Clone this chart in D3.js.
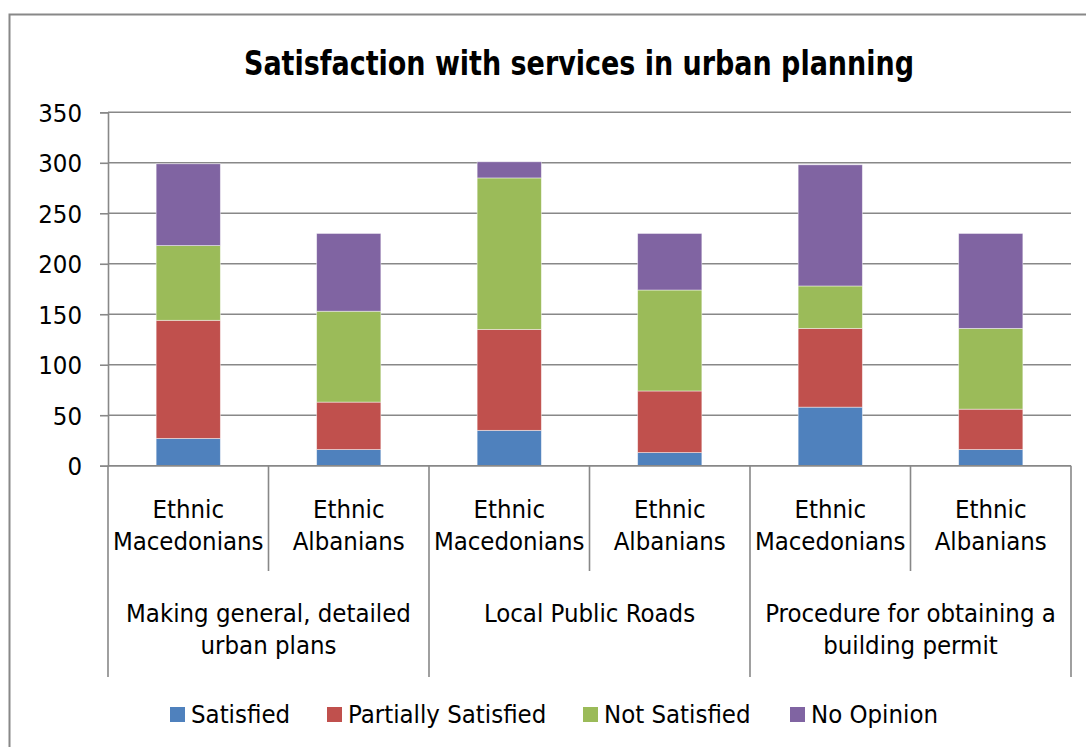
<!DOCTYPE html>
<html>
<head>
<meta charset="utf-8">
<script src="https://cdn.jsdelivr.net/npm/d3@7/dist/d3.min.js"></script>
<style>
  html, body { margin: 0; padding: 0; background: #fff; }
  svg { display: block; }
  text { font-family: "DejaVu Sans Condensed", "DejaVu Sans", sans-serif; font-stretch: condensed; fill: #000; }
</style>
</head>
<body>
<svg id="chart" width="1086" height="747"></svg>
<script>
// Respondent groups within each service area
const groups = ["Ethnic Macedonians", "Ethnic Albanians"];
const services = [
  ["Making general, detailed", "urban plans"],
  ["Local Public Roads"],
  ["Procedure for obtaining a", "building permit"]
];
const categories = ["EM1", "EA1", "EM2", "EA2", "EM3", "EA3"];

// Stacked answer counts, one value per category
const satisfied    = [27, 16, 35, 13, 58, 16];
const partially    = [117, 47, 100, 61, 78, 40];
const notSatisfied = [74, 90, 150, 100, 42, 80];
const noOpinion    = [81, 77, 16, 56, 120, 94];

const seriesNames = ["Satisfied", "Partially Satisfied", "Not Satisfied", "No Opinion"];
const seriesColors = ["#4F81BD", "#C0504D", "#9BBB59", "#8064A2"];
const yTicks = [0, 50, 100, 150, 200, 250, 300, 350];

const svg = d3.select("#chart");
const grid = "#888888";
const fs = 25.5;

// Outer chart frame
svg.append("rect")
  .attr("x", 9.5).attr("y", 14.5).attr("width", 1090).attr("height", 760)
  .attr("fill", "#fff").attr("stroke", grid).attr("stroke-width", 2);

// Title
svg.append("text")
  .attr("x", 579).attr("y", 75)
  .attr("text-anchor", "middle")
  .attr("font-size", 34).attr("font-weight", "bold")
  .attr("textLength", 670).attr("lengthAdjust", "spacingAndGlyphs")
  .text("Satisfaction with services in urban planning");

const plot = { left: 108, right: 1071, top: 112.3, bottom: 465.7 };

const x = d3.scaleBand()
  .domain(categories)
  .range([plot.left, plot.right])
  .paddingInner(0.6).paddingOuter(0.3);
const step = x.step();

const y = d3.scaleLinear().domain([0, 350]).range([plot.bottom, plot.top]);

// Horizontal gridlines
svg.append("g").selectAll("line").data(yTicks).join("line")
  .attr("x1", plot.left).attr("x2", plot.right)
  .attr("y1", d => y(d)).attr("y2", d => y(d))
  .attr("stroke", grid).attr("stroke-width", 1.6);

// Y axis
const yAxis = svg.append("g")
  .attr("transform", `translate(${plot.left},0)`)
  .call(d3.axisLeft(y).tickValues(yTicks).tickSize(8).tickPadding(18));
yAxis.attr("font-family", null).attr("font-size", null);
yAxis.select(".domain").attr("stroke", grid).attr("stroke-width", 1.6);
yAxis.selectAll(".tick line").attr("stroke", grid).attr("stroke-width", 1.6);
yAxis.selectAll(".tick text")
  .attr("font-size", fs).attr("dy", "0.36em");

// Stacked bars
const rows = categories.map((c, i) => ({
  cat: c,
  "Satisfied": satisfied[i],
  "Partially Satisfied": partially[i],
  "Not Satisfied": notSatisfied[i],
  "No Opinion": noOpinion[i]
}));
const stacked = d3.stack().keys(seriesNames)(rows);

svg.append("g").selectAll("g").data(stacked).join("g")
  .attr("fill", (d, i) => seriesColors[i])
  .selectAll("rect").data(d => d).join("rect")
  .attr("x", d => x(d.data.cat))
  .attr("width", x.bandwidth())
  .attr("y", d => y(d[1]))
  .attr("height", d => y(d[0]) - y(d[1]))
  .attr("stroke", "rgba(255,255,255,0.55)").attr("stroke-width", 0.8);

// Category axis line (drawn over bar bases)
svg.append("line")
  .attr("x1", plot.left).attr("x2", plot.right)
  .attr("y1", plot.bottom).attr("y2", plot.bottom)
  .attr("stroke", grid).attr("stroke-width", 1.6);

// Category dividers: short ones between groups, long ones between services
const boundaries = d3.range(categories.length + 1);
svg.append("g").selectAll("line").data(boundaries).join("line")
  .attr("x1", i => plot.left + i * step).attr("x2", i => plot.left + i * step)
  .attr("y1", plot.bottom)
  .attr("y2", i => (i % 2 === 0 ? 677 : 571))
  .attr("stroke", grid).attr("stroke-width", 1.6);

// Respondent group labels
const catLabels = svg.append("g").selectAll("text").data(categories).join("text")
  .attr("text-anchor", "middle")
  .attr("font-size", fs)
  .attr("x", d => x(d) + x.bandwidth() / 2);
catLabels.each(function(d, i) {
  const words = groups[i % 2].split(" ");
  d3.select(this).selectAll("tspan").data(words).join("tspan")
    .attr("x", x(d) + x.bandwidth() / 2)
    .attr("y", (w, j) => 518 + j * 32)
    .text(w => w);
});

// Service area labels
svg.append("g").selectAll("text").data(services).join("text")
  .attr("text-anchor", "middle")
  .attr("font-size", fs)
  .each(function(lines, i) {
    const cx = plot.left + (i * 2 + 1) * step;
    d3.select(this).selectAll("tspan").data(lines).join("tspan")
      .attr("x", cx)
      .attr("y", (w, j) => 622 + j * 32)
      .text(w => w);
  });

// Legend
const legendX = [170, 327, 583, 790];
const legend = svg.append("g").selectAll("g").data(seriesNames).join("g")
  .attr("transform", (d, i) => `translate(${legendX[i]},707)`);
legend.append("rect")
  .attr("width", 15).attr("height", 15)
  .attr("fill", (d, i) => seriesColors[i]);
legend.append("text")
  .attr("x", 21).attr("y", 16)
  .attr("font-size", fs)
  .text(d => d);
</script>
</body>
</html>
